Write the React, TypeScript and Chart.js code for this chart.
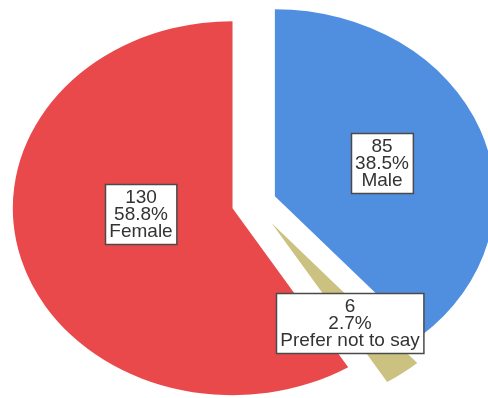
import React, { useEffect, useRef } from "react";
import { Chart, registerables } from "chart.js";

Chart.register(...registerables);

const categories = ["Male", "Prefer not to say", "Female"];
const counts = [85, 6, 130];
const percents = ["38.5%", "2.7%", "58.8%"];
const colors = ["#508fe0", "#cbc281", "#ea494c"];
// explode distance of each slice (pixels, before horizontal stretch)
const explode = [19, 25, 19];
// label box centres relative to pie centre (pixels)
const labelOffsets: [number, number][] = [
  [128, -40],
  [96, 120],
  [-113, 11],
];

const W = 488;
const H = 398;
const SX = 1.175; // horizontal stretch of the ellipse
const RADIUS = 187;

export default function App() {
  const ref = useRef<HTMLCanvasElement | null>(null);

  useEffect(() => {
    const canvas = ref.current;
    if (!canvas) return;

    const explodePlugin = {
      id: "explode",
      afterDatasetUpdate(chart: any, args: any) {
        const meta = chart.getDatasetMeta(args.index);
        meta.data.forEach((arc: any, i: number) => {
          const mid = (arc.startAngle + arc.endAngle) / 2;
          arc.x += Math.cos(mid) * explode[i];
          arc.y += Math.sin(mid) * explode[i];
        });
      },
    };

    const stretchPlugin = {
      id: "stretch",
      beforeDatasetsDraw(chart: any) {
        const { ctx, chartArea } = chart;
        const cx = (chartArea.left + chartArea.right) / 2;
        const cy = (chartArea.top + chartArea.bottom) / 2;
        ctx.save();
        ctx.translate(cx, cy);
        ctx.scale(SX, 1);
        ctx.translate(-cx, -cy);
      },
      afterDatasetsDraw(chart: any) {
        const { ctx, chartArea } = chart;
        ctx.restore();
        const cx = (chartArea.left + chartArea.right) / 2;
        const cy = (chartArea.top + chartArea.bottom) / 2;
        ctx.save();
        ctx.font = '19px "Liberation Sans", Arial, sans-serif';
        ctx.textAlign = "center";
        ctx.textBaseline = "middle";
        const lh = 17;
        categories.forEach((cat, i) => {
          const lines = [String(counts[i]), percents[i], cat];
          const w = Math.max(...lines.map((l) => ctx.measureText(l).width)) + 8;
          const h = lines.length * lh + 9;
          const x = cx + labelOffsets[i][0];
          const y = cy + labelOffsets[i][1];
          const bx = Math.round(x - w / 2) + 0.5;
          const by = Math.round(y - h / 2) + 0.5;
          ctx.fillStyle = "#ffffff";
          ctx.fillRect(bx, by, w, h);
          ctx.strokeStyle = "#4a4a4a";
          ctx.lineWidth = 1.5;
          ctx.strokeRect(bx, by, w, h);
          ctx.fillStyle = "#333333";
          lines.forEach((l, k) => {
            ctx.fillText(l, x, y + (k - 1) * lh + 1);
          });
        });
        ctx.restore();
      },
    };

    const chart = new Chart(canvas, {
      type: "pie",
      data: {
        labels: categories,
        datasets: [
          {
            data: counts,
            backgroundColor: colors,
            borderWidth: 0,
            clip: false as any,
          },
        ],
      },
      options: {
        responsive: false,
        animation: false,
        radius: RADIUS,
        layout: { padding: { left: 20, top: 8, right: 0, bottom: 0 } },
        plugins: {
          legend: { display: false },
          tooltip: { enabled: false },
        },
        events: [],
      } as any,
      plugins: [explodePlugin, stretchPlugin],
    });
    return () => chart.destroy();
  }, []);

  return (
    <div style={{ position: "fixed", left: 0, top: 0, width: W, height: H, background: "#fff" }}>
      <canvas ref={ref} width={W} height={H} style={{ width: W, height: H, display: "block" }} />
    </div>
  );
}
